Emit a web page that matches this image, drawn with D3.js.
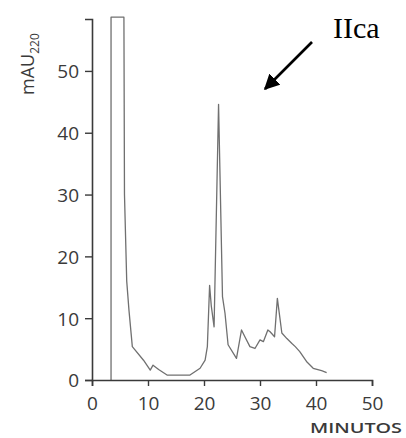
<!DOCTYPE html>
<html>
<head>
<meta charset="utf-8">
<script src="https://cdn.jsdelivr.net/npm/d3@7"></script>
<style>
  html, body { margin: 0; padding: 0; background: #fff; }
  svg { display: block; }
</style>
</head>
<body>
<div id="chart"></div>
<script>
// Data (solvent peak runs off scale, flat at the top)
const timeMin = [3.4, 3.4, 5.7, 5.8, 6.2, 6.6, 7.2, 9.2, 10.4, 10.9, 11.9, 13.4, 17.5, 19.3, 20.2, 20.6,
  21.0, 21.3, 21.8, 22.6, 23.3, 23.75, 24.3, 25.8, 26.7, 27.3, 28.2, 29.1, 30.0, 30.6, 31.4, 31.8,
  32.6, 33.1, 33.4, 33.9, 34.8, 35.7, 36.3, 37.1, 38.3, 39.5, 41.0, 41.9]
const mAU = [0, 58.7, 58.7, 30, 16, 11.3, 5.4, 3.2, 1.6, 2.4, 1.7, 0.8, 0.8, 1.9, 3.2, 5.4,
  15.3, 12.0, 8.6, 44.6, 13.5, 10.8, 5.7, 3.5, 8.1, 7.0, 5.4, 5.1, 6.5, 6.2, 8.1, 7.8,
  7.0, 13.2, 11.1, 7.6, 6.7, 5.9, 5.4, 4.6, 3.0, 1.9, 1.5, 1.2]
const xTicks = [0, 10, 20, 30, 40, 50]
const yTicks = [0, 10, 20, 30, 40, 50]
const yMax = 58.4

;(({ width, height }) => {
  const svg = d3.select('#chart')
    .append('svg')
    .attr('width', width)
    .attr('height', height)

  const x = d3.scaleLinear().domain([0, 50]).range([92, 372])
  const y = d3.scaleLinear().domain([0, yMax]).range([380, 19])

  const ink = '#3a3a3a'

  // Trace
  const line = d3.line().x(d => x(d[0])).y(d => y(d[1]))
  svg.append('path')
    .datum(timeMin.map((t, i) => [t, mAU[i]]))
    .attr('d', line)
    .attr('fill', 'none')
    .attr('stroke', '#707070')
    .attr('stroke-width', 1.3)
    .attr('stroke-linejoin', 'round')

  // Axes
  const xAxis = svg.append('g')
    .attr('transform', `translate(0,${y(0)})`)
    .call(d3.axisBottom(x).tickValues(xTicks).tickSize(6).tickPadding(11))
  const yAxis = svg.append('g')
    .attr('transform', `translate(${x(0)},0)`)
    .call(d3.axisLeft(y).tickValues(yTicks).tickSize(7).tickPadding(6))
  ;[xAxis, yAxis].forEach(g => {
    g.select('.domain').attr('stroke', ink).attr('stroke-width', 1.6)
    g.selectAll('.tick line').attr('stroke', ink).attr('stroke-width', 1.4)
    g.selectAll('.tick text')
      .attr('fill', ink)
      .style('font-family', '"Open Sans", sans-serif')
      .style('font-size', '19px')
  })
  yAxis.selectAll('.tick text').attr('dy', '0.36em')

  // Axis titles
  const yLabel = svg.append('text')
    .attr('transform', 'translate(34,95) rotate(-90)')
    .attr('fill', ink)
    .style('font-family', '"Open Sans", sans-serif')
    .style('font-size', '18px')
  yLabel.append('tspan').text('mAU')
  yLabel.append('tspan').attr('dy', 5).style('font-size', '12px').text('220')

  svg.append('text')
    .attr('x', 310).attr('y', 433)
    .attr('textLength', 92)
    .attr('lengthAdjust', 'spacingAndGlyphs')
    .attr('fill', ink)
    .style('font-family', '"Open Sans", sans-serif')
    .style('font-size', '14px')
    .style('font-weight', 600)
    .text('MINUTOS')

  // Annotation
  svg.append('text')
    .attr('x', 333).attr('y', 38)
    .attr('fill', '#000')
    .style('font-family', '"Liberation Serif", serif')
    .style('font-size', '30px')
    .text('IIca')

  svg.append('defs').append('marker')
    .attr('id', 'head')
    .attr('viewBox', '0 0 10 10')
    .attr('refX', 9).attr('refY', 5)
    .attr('markerWidth', 6).attr('markerHeight', 6)
    .attr('markerUnits', 'strokeWidth')
    .attr('orient', 'auto')
    .append('path')
    .attr('d', 'M0,0L10,5L0,10Z')
    .attr('fill', '#000')

  svg.append('line')
    .attr('x1', 312).attr('y1', 42)
    .attr('x2', 265).attr('y2', 89)
    .attr('stroke', '#000')
    .attr('stroke-width', 2.6)
    .attr('marker-end', 'url(#head)')
})({ width: 406, height: 438 })
</script>
</body>
</html>
